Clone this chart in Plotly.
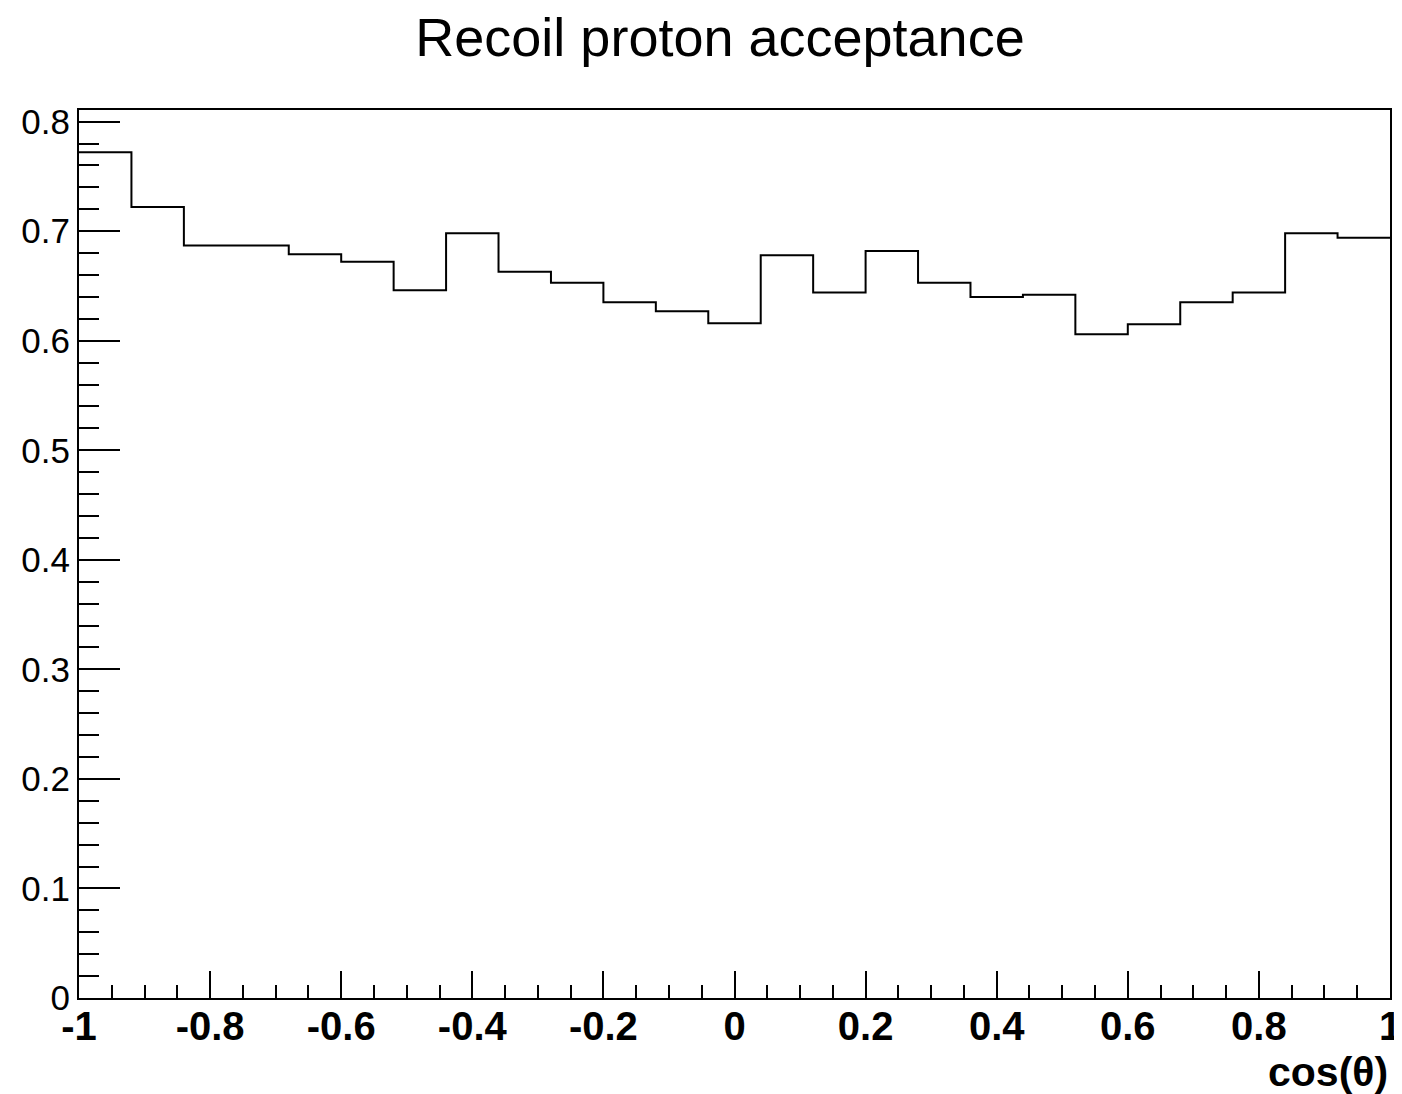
import numpy as np
import plotly.graph_objects as go

# 25 bins in cos(theta) from -1 to 1
bin_low = -1.0
bin_high = 1.0
n_bins = 25

acceptance = [0.772, 0.722, 0.687, 0.687, 0.679, 0.672, 0.646, 0.698, 0.663, 0.653,
              0.635, 0.627, 0.616, 0.678, 0.644, 0.682, 0.653, 0.640, 0.642, 0.606,
              0.615, 0.635, 0.644, 0.698, 0.694]

x_ticks = [-1, -0.8, -0.6, -0.4, -0.2, 0, 0.2, 0.4, 0.6, 0.8, 1]
x_labels = ['-1', '-0.8', '-0.6', '-0.4', '-0.2', '0', '0.2', '0.4', '0.6', '0.8', '1']
y_ticks = [0, 0.1, 0.2, 0.3, 0.4, 0.5, 0.6, 0.7, 0.8]
y_labels = ['0', '0.1', '0.2', '0.3', '0.4', '0.5', '0.6', '0.7', '0.8']

edges = np.linspace(bin_low, bin_high, n_bins + 1)
ymax = max(acceptance) * 1.05

# page body adds an 8px offset, so the figure is a little smaller than the window
W, H = 1394, 1086

fig = go.Figure()
fig.add_trace(go.Scatter(
    x=edges, y=acceptance + [acceptance[-1]],
    mode='lines', line=dict(shape='hv', color='black', width=2),
    showlegend=False, hoverinfo='skip'))

fig.update_layout(
    width=W, height=H,
    margin=dict(l=71, r=12, t=102, b=96),
    plot_bgcolor='white', paper_bgcolor='white',
    font=dict(family='Liberation Sans, Arial, sans-serif', color='black'),
    title=dict(text='Recoil proton acceptance', x=712 / W, xanchor='center',
               y=1 - 29 / H, yanchor='middle', yref='container',
               font=dict(size=54, color='black')),
)

fig.update_xaxes(
    range=[bin_low, bin_high], showgrid=False, zeroline=False, automargin=False,
    showline=True, linecolor='black', linewidth=2, mirror=True,
    ticks='inside', ticklen=27, tickwidth=2, tickcolor='black',
    tickvals=x_ticks, ticktext=x_labels, ticklabelstandoff=-8,
    tickfont=dict(size=40, family='Liberation Sans, Arial', weight='bold'),
    minor=dict(ticks='inside', ticklen=13, tickwidth=2, tickcolor='black',
               tick0=-1, dtick=0.05, showgrid=False),
)
fig.update_yaxes(
    range=[0, ymax], showgrid=False, zeroline=False, automargin=False,
    showline=True, linecolor='black', linewidth=2, mirror=True,
    ticks='inside', ticklen=41, tickwidth=2, tickcolor='black',
    tickvals=y_ticks, ticktext=y_labels,
    tickfont=dict(size=35),
    minor=dict(ticks='inside', ticklen=20, tickwidth=2, tickcolor='black',
               tick0=0, dtick=0.02, showgrid=False),
)

fig.add_annotation(
    text='<b>cos(θ)</b>', xref='paper', yref='paper', x=1, y=-74 / 888,
    xanchor='right', yanchor='middle', showarrow=False,
    font=dict(size=41, color='black'))

fig.write_html("out.html")
